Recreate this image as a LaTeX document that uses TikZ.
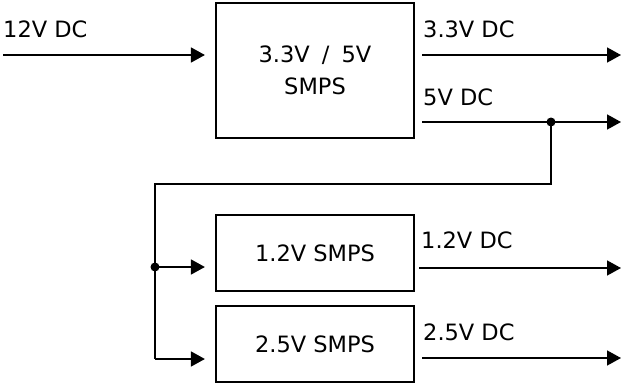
\documentclass[tikz,border=0pt]{standalone}
\usepackage{fontspec}
\setmainfont{DejaVu Sans}
\usetikzlibrary{arrows.meta,calc}
\begin{document}
\begin{tikzpicture}[x=1pt,y=-1pt,
  blk/.style={draw,line width=2.2pt,inner sep=0pt,minimum width=198pt,align=center,font=\fontsize{22.5}{32}\selectfont},
  lbl/.style={anchor=base west,inner sep=0pt,font=\fontsize{22.5}{26}\selectfont},
  wire/.style={line width=1.6pt},
  arr/.style={wire,-{Triangle[length=14pt,width=15pt]}},
  dot/.style={circle,fill,inner sep=0pt,minimum size=9pt}]
\useasboundingbox (0,0) rectangle (622,383);
\node[blk,minimum height=135pt] (main) at (315,70.5) {3.3V\hspace{5pt} /\hspace{5pt} 5V\\SMPS};
\node[blk,minimum height=76pt] (b12) at (315,253) {1.2V SMPS};
\node[blk,minimum height=76pt] (b25) at (315,344) {2.5V SMPS};
\coordinate (in) at (3,55);
\coordinate (o33) at (621,55);
\coordinate (o5) at (621,122);
\coordinate (o12) at (621,268);
\coordinate (o25) at (621,358);
\node[dot] (j1) at (551,122) {};
\node[dot] (j2) at (155,267) {};
\coordinate (c1) at (551,184);
\coordinate (c2) at (155,184);
\coordinate (c3) at (155,359);
\node[lbl] (l12in) at (3,37) {12V DC};
\node[lbl] (l33) at (423,37) {3.3V DC};
\node[lbl] (l5) at (423,105) {5V DC};
\node[lbl] (l12) at (421,248) {1.2V DC};
\node[lbl] (l25) at (423,340) {2.5V DC};
\draw[arr,shorten >=10pt] (in) -- (in -| main.west);
\draw[arr] ([xshift=7pt]main.east |- o33) -- (o33);
\draw[arr] ([xshift=7pt]main.east |- o5) -- (o5);
\draw[arr] ([xshift=4pt]b12.east |- o12) -- (o12);
\draw[arr] ([xshift=7pt]b25.east |- o25) -- (o25);
\draw[wire] (j1.center) -- (c1) -- (c2) -- (c3);
\draw[arr,shorten >=10pt] (c3) -- (c3 -| b25.west);
\draw[arr,shorten >=10pt] (j2.center) -- (j2 -| b12.west);
\end{tikzpicture}
\end{document}
